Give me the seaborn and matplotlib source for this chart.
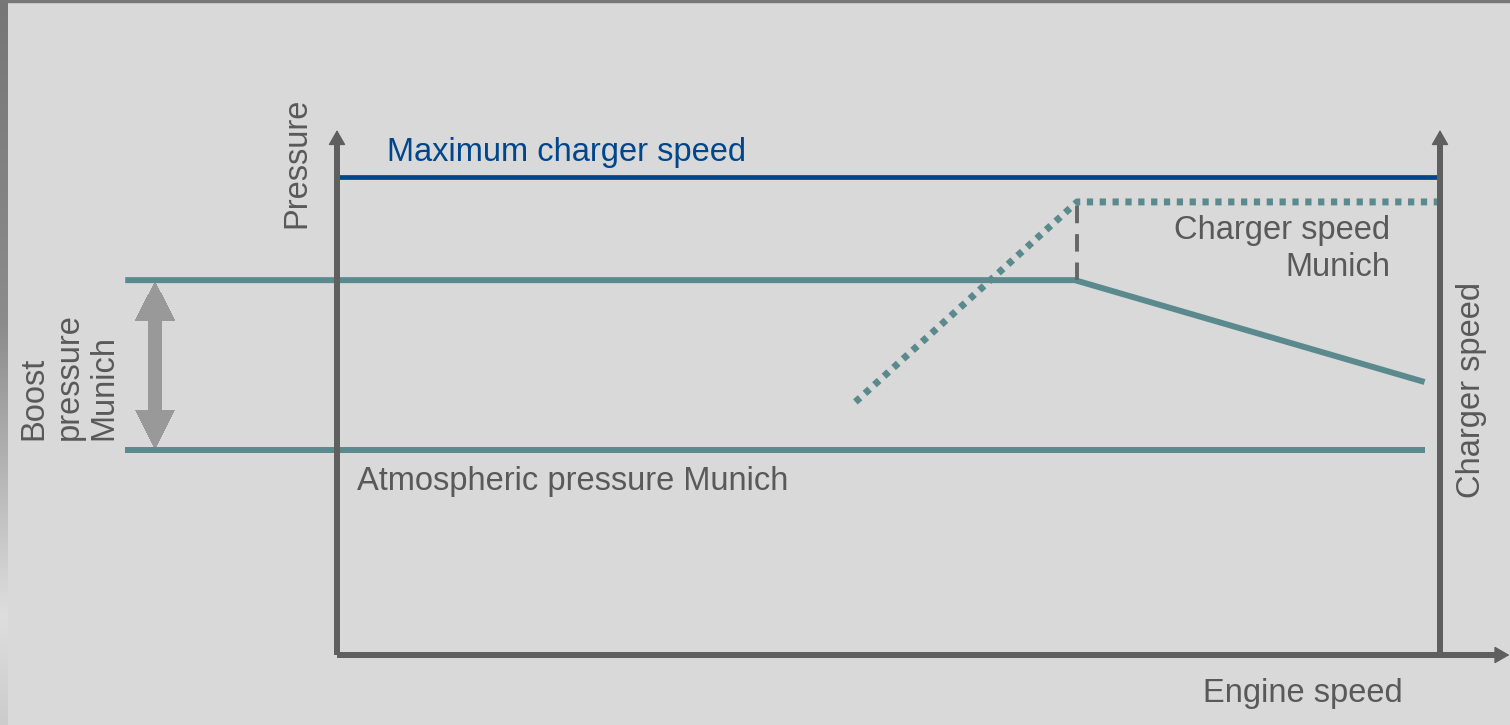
import matplotlib
matplotlib.use("Agg")
import matplotlib.pyplot as plt
from matplotlib.patches import Rectangle
from matplotlib.colors import LinearSegmentedColormap
import numpy as np
import seaborn as sns

# data (engine speed 0..100 between the two vertical axes, pressure 0..100)
boost_x = [-19.2, 66.9, 98.6]
boost_y = [71.4, 71.4, 52.0]
atmo_x = [-19.2, 98.6]
atmo_y = [39.0, 39.0]
charger_x = [47.0, 67.1, 100.0]
charger_y = [48.2, 86.3, 86.3]
max_x = [0.0, 100.0]
max_y = [91.0, 91.0]
knee_x = 67.1
arrow_x = -16.5
arrow_lo, arrow_hi = 39.4, 71.0

BG = '#d9d9d9'
TEAL = '#5a8a8e'
BLUE = '#00468c'
AXC = '#5f5f5f'
TXT = '#595959'

sns.set_theme(style='white', rc={'figure.facecolor': BG, 'axes.facecolor': BG})
plt.rcParams['font.family'] = ['Liberation Sans', 'DejaVu Sans']

fig = plt.figure(figsize=(15.1, 7.25), dpi=100)

# left edge shading strip
strip = fig.add_axes([0, 0, 7 / 1510, 1])
strip.axis('off')
edge_cmap = LinearSegmentedColormap.from_list(
    'edge', [(0.0, '#767676'), (0.45, '#8c8c8c'), (0.85, '#dedede'), (1.0, '#cccccc')])
strip.imshow(np.linspace(0, 1, 256).reshape(-1, 1), cmap=edge_cmap, aspect='auto',
             extent=(0, 1, 1, 0))
fig.patches.append(Rectangle((0, 1 - 2 / 725), 1, 2 / 725, transform=fig.transFigure,
                             color='#777777', zorder=0))

ax = fig.add_axes([337 / 1510, 70 / 725, 1103 / 1510, 525 / 725])
ax.set_xlim(0, 100)
ax.set_ylim(0, 100)
ax.axis('off')

# axes with arrows
def axis_arrow(x0, y0, x1, y1, xs, ys):
    ax.plot([x0, xs], [y0, ys], color=AXC, lw=4.3, solid_capstyle='butt', clip_on=False, zorder=5)
    ax.annotate('', xy=(x1, y1), xytext=(xs, ys),
                arrowprops=dict(arrowstyle='-|>,head_length=0.47,head_width=0.27', mutation_scale=20,
                                lw=1, color=AXC, shrinkA=0, shrinkB=0),
                annotation_clip=False, zorder=5)

axis_arrow(0, 0, 0, 100, 0, 98)
axis_arrow(100, 0, 100, 100, 100, 98)
axis_arrow(0, 0, 106.3, 0, 105.2, 0)

# lines
sns.lineplot(x=max_x, y=max_y, ax=ax, color=BLUE, linewidth=3.4, solid_capstyle='butt', clip_on=False)
sns.lineplot(x=boost_x, y=boost_y, ax=ax, color=TEAL, linewidth=4.3, solid_capstyle='butt', clip_on=False)
sns.lineplot(x=atmo_x, y=atmo_y, ax=ax, color=TEAL, linewidth=4.3, solid_capstyle='butt', clip_on=False)
sns.lineplot(x=charger_x, y=charger_y, ax=ax, color=TEAL, linewidth=5, linestyle=(0, (0.9, 0.95)),
             dash_capstyle='butt', clip_on=False)
ax.vlines(knee_x, boost_y[1], charger_y[1], color='#666666', lw=2.8, linestyles=(0, (4.5, 2.8)))

# double arrow for boost pressure
mid = (arrow_lo + arrow_hi) / 2
for end, start in ((arrow_hi, mid - 2), (arrow_lo, mid + 2)):
    ax.arrow(arrow_x, start, 0, end - start, width=1.18, head_width=3.5, head_length=7.2,
             length_includes_head=True, color='#999999', lw=0, clip_on=False, antialiased=False)

# texts
fs = 23.5
ax.text(4.5, 95.8, 'Maximum charger speed', color=BLUE, fontsize=fs, ha='left', va='center')
ax.text(-3.6, 81.3, 'Pressure', color=TXT, fontsize=fs, rotation=90, ha='center', va='bottom')
ax.text(-24.3, 41.0, 'Boost\npressure\nMunich', color=TXT, fontsize=fs, rotation=90,
        ha='center', va='bottom', multialignment='left', linespacing=1.18)
ax.text(102.9, 50.5, 'Charger speed', color=TXT, fontsize=fs, rotation=90, ha='center', va='center')
ax.text(95.5, 77.3, 'Charger speed\nMunich', color=TXT, fontsize=fs, ha='right', va='center',
        multialignment='right', linespacing=1.25)
ax.text(1.8, 33.1, 'Atmospheric pressure Munich', color=TXT, fontsize=fs, ha='left', va='center')
ax.text(87.6, -7.4, 'Engine speed', color=TXT, fontsize=fs, ha='center', va='center')

fig.savefig('out.png', dpi=100, facecolor=BG)
